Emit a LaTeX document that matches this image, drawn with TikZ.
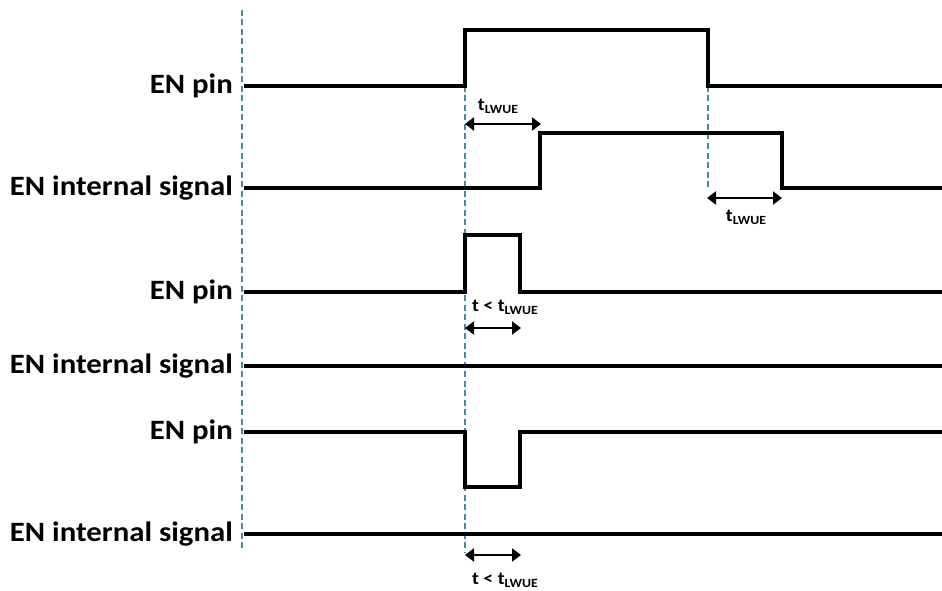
\documentclass[tikz,border=0pt]{standalone}
\usepackage{fontspec}
\setmainfont{Carlito}
\usetikzlibrary{arrows.meta}
\definecolor{guide}{RGB}{62,142,162}
\newcommand{\tlw}{t{\fontsize{12.5}{14}\selectfont\raisebox{-3pt}{LWUE}}}
\newcommand{\wide}[1]{\scalebox{1.1}[1]{#1}}
\begin{document}
\begin{tikzpicture}[x=1pt,y=-1pt,every node/.style={font=\bfseries},
  sig/.style={line width=4pt,line join=miter},
  guideline/.style={guide,line width=2.2pt,dash pattern=on 6pt off 3.5pt},
  span/.style={line width=2.6pt,{Triangle[length=9pt,width=13pt]}-{Triangle[length=9pt,width=13pt]}},
  lbl/.style={anchor=east,inner sep=0pt,font=\bfseries\fontsize{28}{32}\selectfont},
  tlbl/.style={inner sep=0pt,font=\bfseries\fontsize{18}{20}\selectfont}]
\useasboundingbox (0,0) rectangle (942,591);
\node[lbl] (l1) at (233,86) {\wide{EN pin}}; \node[lbl] (l2) at (233,188) {\wide{EN internal signal}};
\node[lbl] (l3) at (233,292) {\wide{EN pin}}; \node[lbl] (l4) at (233,366) {\wide{EN internal signal}};
\node[lbl] (l5) at (233,432) {\wide{EN pin}}; \node[lbl] (l6) at (233,534) {\wide{EN internal signal}};
% guide lines
\coordinate (g0a) at (242,10); \coordinate (g0b) at (242,550);
\coordinate (g1a) at (465,86); \coordinate (g1b) at (465,552);
\coordinate (g2a) at (708,86); \coordinate (g2b) at (708,188);
\draw[guideline] (g0a)--(g0b); \draw[guideline] (g1a)--(g1b); \draw[guideline] (g2a)--(g2b);
% waveforms
\draw[sig] (244,86)--(465,86)--(465,30)--(708,30)--(708,86)--(942,86);
\draw[sig] (244,188)--(540,188)--(540,133)--(782,133)--(782,188)--(942,188);
\draw[sig] (244,292)--(465,292)--(465,235)--(520,235)--(520,292)--(942,292);
\draw[sig] (244,366)--(942,366);
\draw[sig] (244,432)--(465,432)--(465,487)--(520,487)--(520,432)--(942,432);
\draw[sig] (244,534)--(942,534);
% time spans
\coordinate (a1) at (465,124); \coordinate (b1) at (541,124);
\coordinate (a2) at (707,198); \coordinate (b2) at (782,198);
\coordinate (a3) at (465,328); \coordinate (b3) at (521,328);
\coordinate (a4) at (465,555); \coordinate (b4) at (521,555);
\draw[span] (a1)--(b1); \draw[span] (a2)--(b2); \draw[span] (a3)--(b3); \draw[span] (a4)--(b4);
\node[tlbl] (t1) at (498,106) {\wide{\tlw}}; \node[tlbl] (t2) at (746,217) {\wide{\tlw}};
\node[tlbl] (t3) at (505,307) {\wide{t < \tlw}}; \node[tlbl] (t4) at (505,580) {\wide{t < \tlw}};
\end{tikzpicture}
\end{document}
